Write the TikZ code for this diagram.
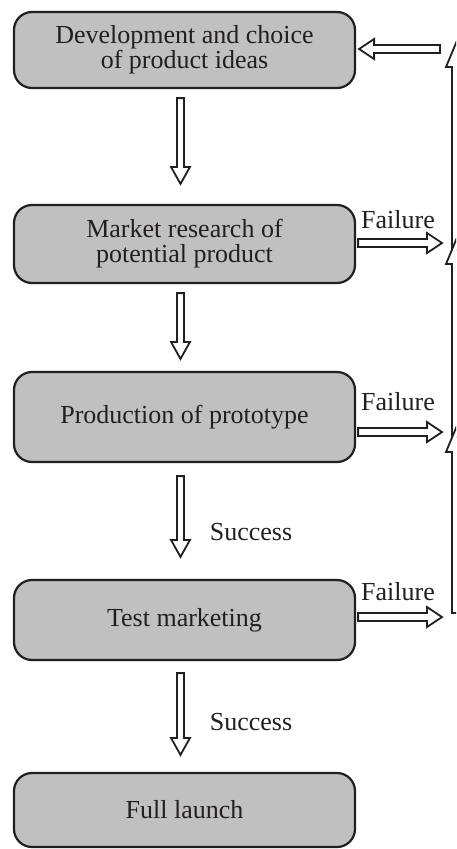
\documentclass[tikz,border=0pt]{standalone}
\usepackage{fontspec}
\setmainfont{Liberation Serif}
\usetikzlibrary{calc}
\definecolor{boxgrey}{RGB}{192,192,192}
\definecolor{ink}{RGB}{35,31,32}
\tikzset{
  stage/.style={draw=ink, fill=boxgrey, line width=2.2pt, rounded corners=18pt,
    minimum width=341pt, align=center, font=\fontsize{26}{25}\selectfont,
    inner sep=0pt, text=ink},
  hollow/.style={draw=ink, fill=white, line width=1.8pt, line join=miter},
  lbl/.style={font=\fontsize{26}{26}\selectfont, inner sep=0pt, text=ink},
}
% from, to, head length, head half width, shaft half width
\newcommand\hollowarrow[5]{%
  \draw[hollow] let \p1=(#1), \p2=(#2),
    \n1={veclen(\x2-\x1,\y2-\y1)}, \n2={atan2(\y2-\y1,\x2-\x1)} in
    [shift={(\p1)}, rotate=\n2]
    (0pt,-#5) -- ({\n1*1pt-#3},-#5) -- ({\n1*1pt-#3},-#4) -- ({\n1*1pt},0pt)
    -- ({\n1*1pt-#3},#4) -- ({\n1*1pt-#3},#5) -- (0pt,#5) -- cycle;}
\begin{document}
\begin{tikzpicture}[x=1pt,y=-1pt]
\useasboundingbox (0,0) rectangle (456,849);
\fill[white] (0,0) rectangle (456,849);
\clip (0,0) rectangle (456,849);

\node[stage, minimum height=76pt] (b1) at (184.5,50) {Development and choice\\of product ideas};
\node[stage, minimum height=78pt] (b2) at (184.5,244) {Market research of\\potential product};
\node[stage, minimum height=90pt] (b3) at (184.5,417) {Production of prototype};
\node[stage, minimum height=80pt] (b4) at (184.5,620) {Test marketing};
\node[stage, minimum height=74pt] (b5) at (184.5,810) {Full launch};

% downward arrows
\coordinate (d1s) at ($(b1.south)+(-4,9)$);  \coordinate (d1e) at ($(b2.north)+(-4,-20)$);
\coordinate (d2s) at ($(b2.south)+(-4,9)$);  \coordinate (d2e) at ($(b3.north)+(-4,-12)$);
\coordinate (d3s) at ($(b3.south)+(-4,13)$); \coordinate (d3e) at ($(b4.north)+(-4,-22)$);
\coordinate (d4s) at ($(b4.south)+(-4,12)$); \coordinate (d4e) at ($(b5.north)+(-4,-17)$);
\hollowarrow{d1s}{d1e}{17pt}{9.5pt}{3.5pt}
\hollowarrow{d2s}{d2e}{17pt}{9.5pt}{3.5pt}
\hollowarrow{d3s}{d3e}{17pt}{9.5pt}{3.5pt}
\hollowarrow{d4s}{d4e}{17pt}{9.5pt}{3.5pt}

\node[lbl] (s1) at (251,532) {Success};
\node[lbl] (s2) at (251,722) {Success};

% feedback column (upward arrows, cut by the right edge)
\coordinate (v1s) at (456,250); \coordinate (v1e) at (456,43);
\coordinate (v2s) at (456,437); \coordinate (v2e) at (456,240);
\coordinate (v3s) at (456,613); \coordinate (v3e) at (456,428);
\hollowarrow{v1s}{v1e}{24pt}{10pt}{4pt}
\hollowarrow{v2s}{v2e}{24pt}{10pt}{4pt}
\hollowarrow{v3s}{v3e}{24pt}{10pt}{4pt}

% failure arrows
\coordinate (f2) at (442,243);
\coordinate (f3) at (442,432);
\coordinate (f4) at (442,617);
\coordinate (r1) at (440,49);
\hollowarrow{$(b2.east)+(2,-1)$}{f2}{15pt}{10pt}{4pt}
\hollowarrow{$(b3.east)+(2,15)$}{f3}{15pt}{10pt}{4pt}
\hollowarrow{$(b4.east)+(2,-3)$}{f4}{15pt}{10pt}{4pt}
\hollowarrow{r1}{$(b1.east)+(3,-1)$}{15pt}{10pt}{4pt}

\node[lbl] (l2) at (398,220) {Failure};
\node[lbl] (l3) at (398,402) {Failure};
\node[lbl] (l4) at (398,592) {Failure};
\end{tikzpicture}
\end{document}
